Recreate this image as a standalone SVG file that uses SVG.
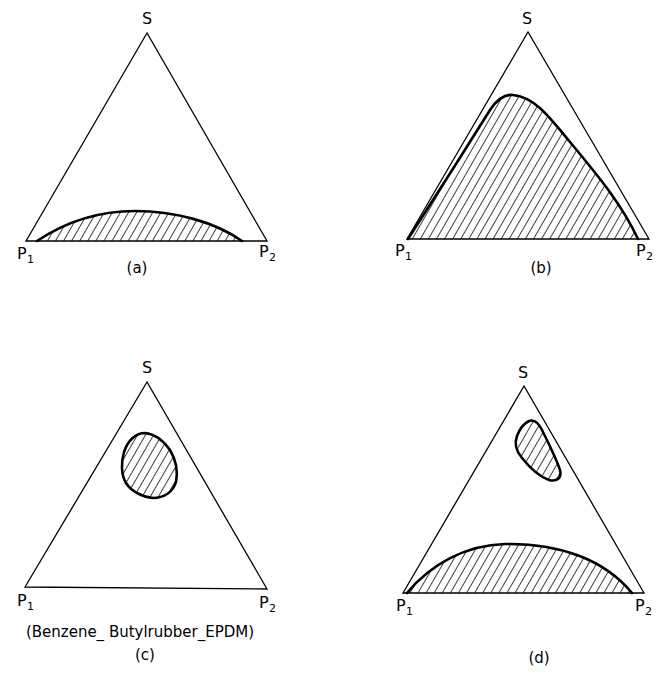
<svg xmlns="http://www.w3.org/2000/svg" width="656" height="674" viewBox="0 0 656 674">
<defs>
<pattern id="hatch" width="7" height="7" patternUnits="userSpaceOnUse" patternTransform="rotate(30)">
<line x1="0" y1="-1" x2="0" y2="8" stroke="#000" stroke-width="1.5"/>
</pattern>
<style>
.tri{fill:none;stroke:#000;stroke-width:1.3;stroke-linejoin:miter}
.area{fill:url(#hatch);stroke:none}
.edge{fill:none;stroke:#000;stroke-width:2.6;stroke-linecap:round;stroke-linejoin:round}
.lbl{font-family:"DejaVu Sans","Liberation Sans",sans-serif;font-size:16px;fill:#000}
.sub{font-family:"DejaVu Sans","Liberation Sans",sans-serif;font-size:11px;fill:#000}
.cap{font-family:"DejaVu Sans","Liberation Sans",sans-serif;font-size:15px;fill:#000;text-anchor:middle}
</style>
</defs>
<rect width="656" height="674" fill="#fff"/>

<g id="diagram-a">
<polygon class="tri" points="147,33 26,241 267,241"/>
<path class="area" d="M37,241 C70,219 105,211 135,211 C175,211 215,222 242,241 Z"/>
<path class="edge" d="M37,241 C70,219 105,211 135,211 C175,211 215,222 242,241"/>
<text class="lbl" x="142" y="24">S</text>
<text class="lbl" x="17" y="259">P</text><text class="sub" x="27" y="263">1</text>
<text class="lbl" x="259" y="257">P</text><text class="sub" x="269" y="261">2</text>
<text class="cap" x="137" y="273">(a)</text>
</g>

<g id="diagram-b">
<polygon class="tri" points="528,32 407,239 649,239"/>
<path class="area" d="M408,239 C430,205 465,150 490,110 C498,98 505,94 513,95 C535,97 550,118 570,142 C600,178 622,205 638,239 Z"/>
<path class="edge" d="M408,239 C430,205 465,150 490,110 C498,98 505,94 513,95 C535,97 550,118 570,142 C600,178 622,205 638,239"/>
<text class="lbl" x="522" y="24">S</text>
<text class="lbl" x="395" y="256">P</text><text class="sub" x="405" y="260">1</text>
<text class="lbl" x="636" y="256">P</text><text class="sub" x="646" y="260">2</text>
<text class="cap" x="541" y="273">(b)</text>
</g>

<g id="diagram-c">
<polygon class="tri" points="147,382 25,587 267,589"/>
<path class="area" d="M145,433 C155,434 163,440 170,450 C176,460 178,472 176,482 C173,492 164,498 153,498 C142,497 131,491 126,483 C121,475 121,462 124,452 C128,440 136,433 145,433 Z"/>
<path class="edge" d="M145,433 C155,434 163,440 170,450 C176,460 178,472 176,482 C173,492 164,498 153,498 C142,497 131,491 126,483 C121,475 121,462 124,452 C128,440 136,433 145,433 Z"/>
<text class="lbl" x="142" y="373">S</text>
<text class="lbl" x="17" y="606">P</text><text class="sub" x="27" y="610">1</text>
<text class="lbl" x="259" y="608">P</text><text class="sub" x="269" y="612">2</text>
<text class="cap" x="140" y="637" font-size="14">(Benzene_ Butylrubber_EPDM)</text>
<text class="cap" x="145" y="660">(c)</text>
</g>

<g id="diagram-d">
<polygon class="tri" points="524,386 403,593 644,593"/>
<path class="area" d="M407,593 C430,565 465,545 505,544 C560,543 605,560 632,593 Z"/>
<path class="edge" d="M407,593 C430,565 465,545 505,544 C560,543 605,560 632,593"/>
<path class="area" d="M529,421 C534,419 538,422 542,430 C548,442 556,458 560,470 C562,478 557,482 549,480 C540,477 530,468 522,458 C516,451 514,444 517,436 C520,428 525,423 529,421 Z"/>
<path class="edge" d="M529,421 C534,419 538,422 542,430 C548,442 556,458 560,470 C562,478 557,482 549,480 C540,477 530,468 522,458 C516,451 514,444 517,436 C520,428 525,423 529,421 Z"/>
<text class="lbl" x="518" y="378">S</text>
<text class="lbl" x="396" y="611">P</text><text class="sub" x="406" y="615">1</text>
<text class="lbl" x="635" y="611">P</text><text class="sub" x="645" y="615">2</text>
<text class="cap" x="539" y="663">(d)</text>
</g>
</svg>
